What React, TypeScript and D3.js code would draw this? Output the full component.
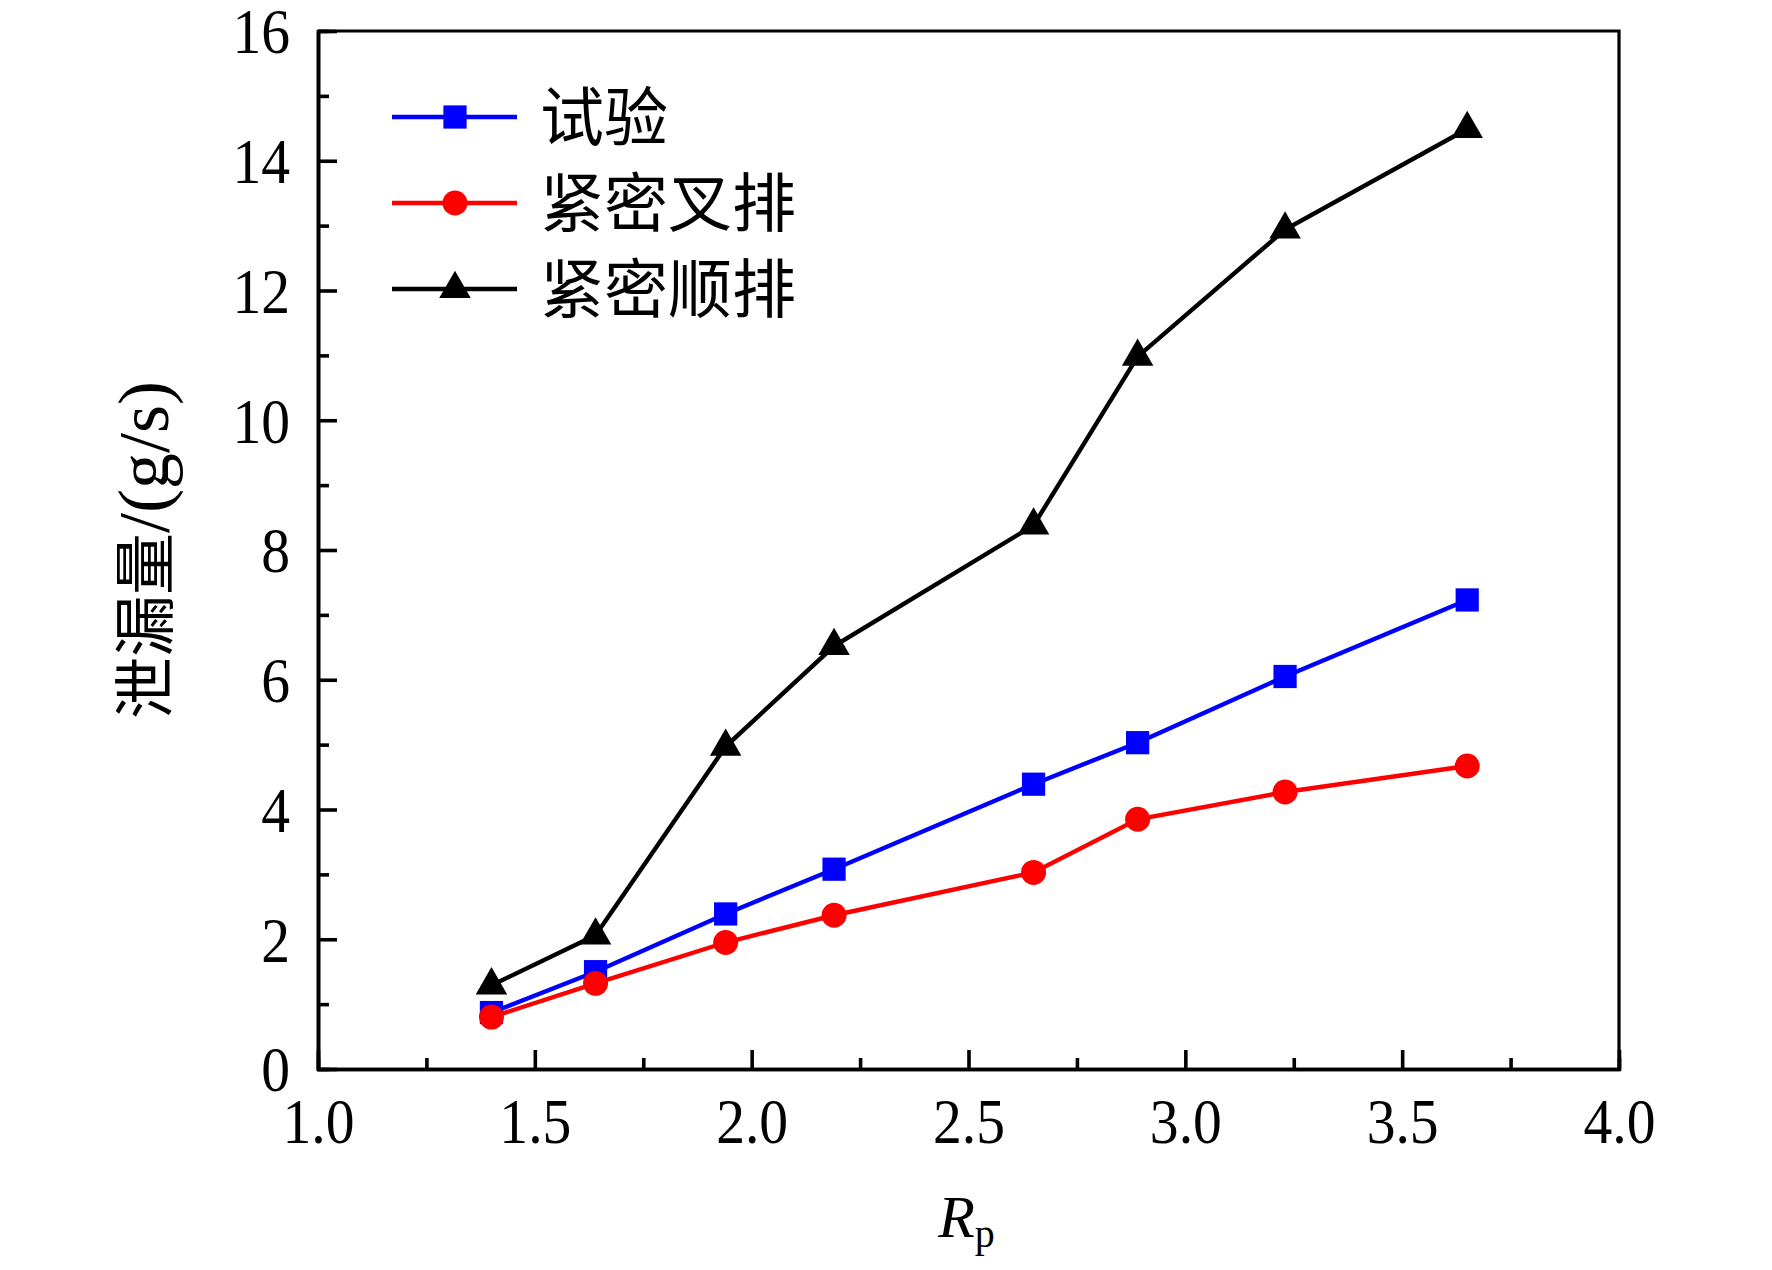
import * as d3 from "d3";
import { useEffect, useRef } from "react";

const rpValues = [1.4, 1.64, 1.94, 2.19, 2.65, 2.89, 3.23, 3.65];
const testValues = [0.87, 1.5, 2.39, 3.08, 4.39, 5.03, 6.05, 7.23];
const staggeredValues = [0.8, 1.32, 1.95, 2.37, 3.03, 3.85, 4.27, 4.67];
const inlineValues = [1.29, 2.06, 4.97, 6.52, 8.38, 10.98, 12.94, 14.49];

const xMajorTicks = [1.0, 1.5, 2.0, 2.5, 3.0, 3.5, 4.0];
const xMinorTicks = [1.25, 1.75, 2.25, 2.75, 3.25, 3.75];
const yMajorTicks = [0, 2, 4, 6, 8, 10, 12, 14, 16];
const yMinorTicks = [1, 3, 5, 7, 9, 11, 13, 15];

const seriesNames = ["试验", "紧密叉排", "紧密顺排"];

const W = 1772;
const H = 1270;
const margin = { left: 318, right: 153, top: 31, bottom: 201 };
const serif = "'Liberation Serif', 'Times New Roman', 'Noto Sans CJK SC', serif";

export default function App() {
  const svgRef = useRef<SVGSVGElement>(null);

  useEffect(() => {
    if (!svgRef.current) return;
    const svg = d3.select(svgRef.current);
    svg.selectAll("*").remove();

    const x = d3.scaleLinear().domain([1, 4]).range([margin.left, W - margin.right]);
    const y = d3.scaleLinear().domain([0, 16]).range([H - margin.bottom, margin.top]);
    const [x0, x1] = x.range();
    const [y0, y1] = y.range();

    // frame (top and right, no ticks)
    svg.append("path")
      .attr("d", `M${x0},${y1}H${x1}V${y0}`)
      .attr("fill", "none")
      .attr("stroke", "#000")
      .attr("stroke-width", 3.2);

    // minor ticks
    const bottom = svg.append("g").attr("transform", `translate(0,${y0})`);
    bottom.call(d3.axisBottom(x).tickValues(xMinorTicks).tickSize(-11).tickFormat(() => ""));
    const left = svg.append("g").attr("transform", `translate(${x0},0)`);
    left.call(d3.axisLeft(y).tickValues(yMinorTicks).tickSize(-11).tickFormat(() => ""));

    // major ticks + labels
    const bottomMajor = svg.append("g").attr("transform", `translate(0,${y0})`);
    bottomMajor.call(
      d3.axisBottom(x).tickValues(xMajorTicks).tickSize(-19).tickSizeOuter(0).tickFormat(d3.format(".1f")),
    );
    const leftMajor = svg.append("g").attr("transform", `translate(${x0},0)`);
    leftMajor.call(
      d3.axisLeft(y).tickValues(yMajorTicks).tickSize(-19).tickSizeOuter(0).tickFormat(d3.format("d")),
    );

    svg.selectAll(".domain").attr("stroke", "#000").attr("stroke-width", 3.6);
    svg.selectAll(".tick line").attr("stroke", "#000").attr("stroke-width", 3.6);

    bottomMajor.selectAll(".tick text")
      .attr("y", 74)
      .attr("dy", null)
      .attr("font-family", serif)
      .attr("font-size", 64)
      .attr("fill", "#000")
      .attr("transform", "scale(0.9,1)");

    leftMajor.selectAll(".tick text")
      .attr("x", -31)
      .attr("dy", "0.34em")
      .attr("font-family", serif)
      .attr("font-size", 64)
      .attr("fill", "#000")
      .attr("transform", "scale(0.9,1)");

    svg.selectAll(".domain").raise();

    // series
    const series = [
      { values: inlineValues, color: "#000000", symbol: d3.symbolTriangle, size: 430, name: seriesNames[2] },
      { values: testValues, color: "#0000ff", symbol: d3.symbolSquare, size: 540, name: seriesNames[0] },
      { values: staggeredValues, color: "#ff0000", symbol: d3.symbolCircle, size: 490, name: seriesNames[1] },
    ];

    const line = d3
      .line<number>()
      .x((_, i) => x(rpValues[i]))
      .y((d) => y(d));

    series.forEach((s) => {
      svg.append("path")
        .datum(s.values)
        .attr("d", line)
        .attr("fill", "none")
        .attr("stroke", s.color)
        .attr("stroke-width", 4.4);

      svg.append("g")
        .selectAll("path")
        .data(s.values)
        .join("path")
        .attr("transform", (d, i) => `translate(${x(rpValues[i])},${y(d)})`)
        .attr("d", d3.symbol(s.symbol, s.size)())
        .attr("fill", s.color);
    });

    // legend
    const legendOrder = [series[1], series[2], series[0]];
    const legend = svg.append("g");
    legendOrder.forEach((s, i) => {
      const ly = 117 + i * 86;
      legend.append("line")
        .attr("x1", 392)
        .attr("x2", 517)
        .attr("y1", ly)
        .attr("y2", ly)
        .attr("stroke", s.color)
        .attr("stroke-width", 4.4);
      legend.append("path")
        .attr("transform", `translate(455,${ly})`)
        .attr("d", d3.symbol(s.symbol, s.size)())
        .attr("fill", s.color);
      legend.append("text")
        .attr("x", 540)
        .attr("y", ly)
        .attr("dy", "0.36em")
        .attr("font-family", serif)
        .attr("font-size", 64)
        .attr("fill", "#000")
        .text(s.name);
    });

    // y axis title
    const yTitle = svg.append("text")
      .attr("transform", `translate(162,${(y0 + y1) / 2}) rotate(-90)`)
      .attr("text-anchor", "middle")
      .attr("dy", "0.36em")
      .attr("font-family", serif)
      .attr("fill", "#000");
    yTitle.append("tspan").attr("font-size", 62).text("泄漏量");
    yTitle.append("tspan").attr("font-size", 72).text("/(g/s)");

    // x axis title
    const xTitle = svg.append("text")
      .attr("x", (x0 + x1) / 2 - 2)
      .attr("y", 1237)
      .attr("text-anchor", "middle")
      .attr("font-family", serif)
      .attr("fill", "#000");
    xTitle.append("tspan").attr("font-size", 60).attr("font-style", "italic").text("R");
    xTitle.append("tspan").attr("font-size", 40).attr("dy", 10).text("p");
  }, []);

  return (
    <svg
      ref={svgRef}
      width={W}
      height={H}
      style={{ position: "absolute", left: 0, top: 0, background: "#fff" }}
    />
  );
}
